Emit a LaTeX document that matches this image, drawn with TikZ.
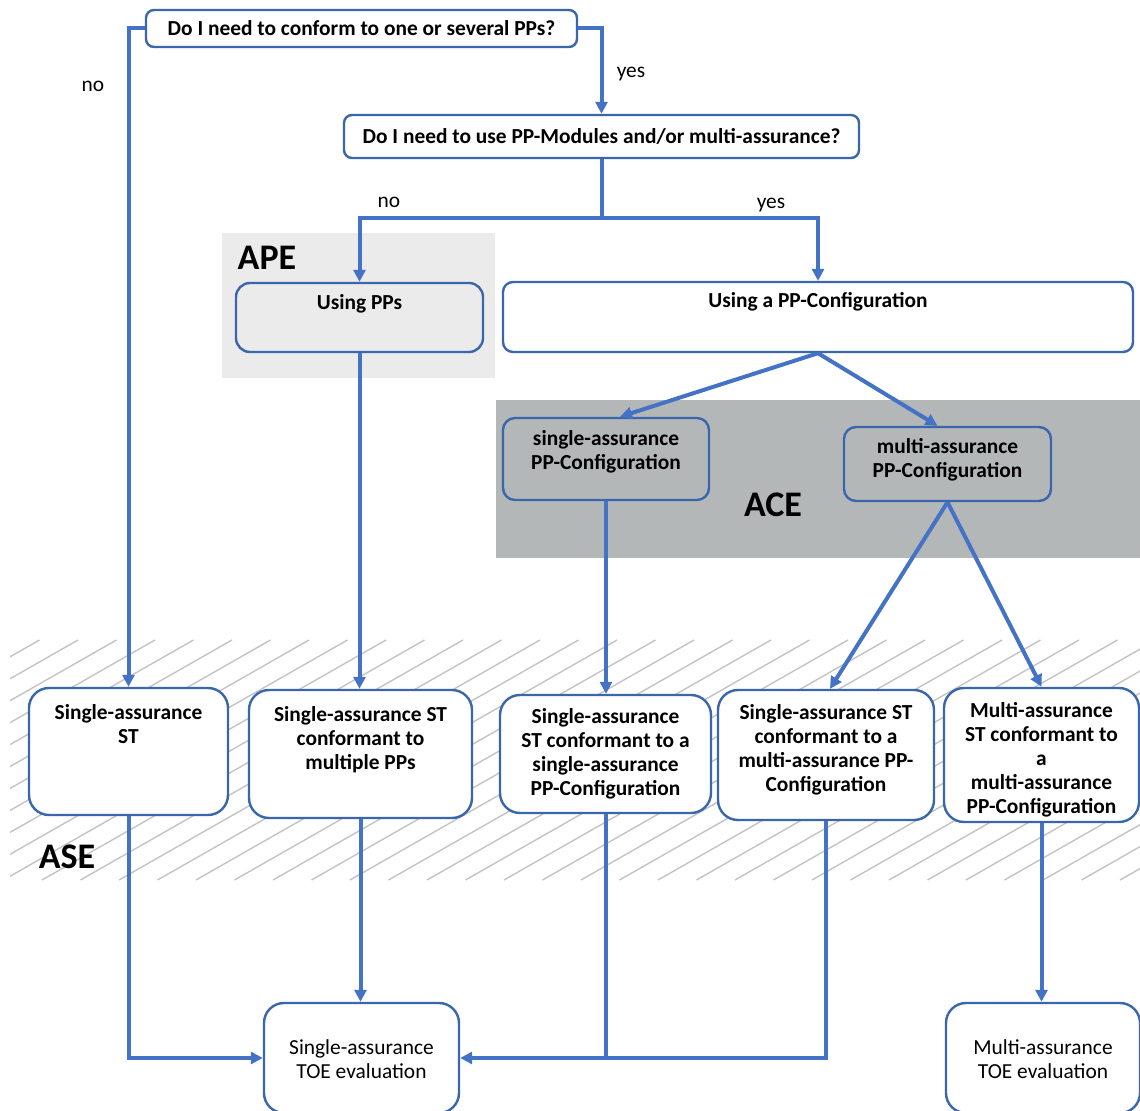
\documentclass[tikz,border=0pt]{standalone}
\usepackage{fontspec}
\setmainfont{Carlito}
\usepackage{xcolor}
\usepackage{tikz}
\usetikzlibrary{positioning, arrows.meta}

\definecolor{flowblue}{RGB}{68,114,196}
\definecolor{boxblue}{RGB}{58,102,172}
\definecolor{apegray}{RGB}{235,235,235}
\definecolor{acegray}{RGB}{180,183,184}
\definecolor{hatchgray}{RGB}{195,195,195}

\begin{document}
\begin{tikzpicture}[
    x=0.5pt, y=-0.5pt,
    qnode/.style={rectangle, rounded corners=4pt, draw=boxblue, line width=1.2pt, fill=white, font=\bfseries\fontsize{10.7}{12}\selectfont},
    boxnode/.style={rectangle, rounded corners=6pt, draw=boxblue, line width=1.2pt},
    stnode/.style={boxnode, rounded corners=10pt, fill=white},
    boxtext/.style={align=center, inner sep=0pt, font=\bfseries\fontsize{10.7}{12}\selectfont},
    toetext/.style={align=center, inner sep=0pt, font=\fontsize{10.7}{12}\selectfont},
    answer/.style={font=\fontsize{10.7}{12}\selectfont},
    area/.style={font=\bfseries\fontsize{18}{20}\selectfont},
    flow/.style={draw=flowblue, line width=2pt},
    flowarrow/.style={flow, -{Triangle[length=6pt, width=6pt]}},
]
\useasboundingbox (0,0) rectangle (1140,1111);

% background areas
\fill[apegray] (222,233) rectangle (495,378);
\fill[acegray] (496,400) rectangle (1140,558);
\begin{scope}
  \clip (10,640) rectangle (1140,880);
  \foreach \hx in {-420,-381.5,...,1140}
    \draw[hatchgray, line width=0.7pt] (\hx,880) -- ++(421,-240);
\end{scope}
\node[area](ape_label) at (267,258){APE};
\node[area](ace_label) at (773,505){ACE};
\node[area](ase_label) at (67,857){ASE};

% questions
\node[qnode, minimum width=215.5pt, minimum height=18.5pt](q_conform) at (361.5,28.5){Do I need to conform to one or several PPs?};
\node[qnode, minimum width=257.5pt, minimum height=21.5pt](q_modules) at (601.5,136.5){Do I need to use PP-Modules and/or multi-assurance?};

% protection profiles
\node[boxnode, rounded corners=7pt, minimum width=123.5pt, minimum height=34.5pt](using_pps) at (359.5,317.5){};
\node[boxtext](using_pps_text)[below=6pt of using_pps.north]{Using PPs};
\node[boxnode, fill=white, rounded corners=5pt, minimum width=315pt, minimum height=35pt](using_config) at (818,317){};
\node[boxtext](using_config_text)[below=5.5pt of using_config.north]{Using a PP-Configuration};
\node[boxnode, minimum width=103pt, minimum height=41pt](single_config) at (606,459){};
\node[boxtext](single_config_text)[below=6.5pt of single_config.north]{single-assurance\\PP-Configuration};
\node[boxnode, minimum width=103.5pt, minimum height=37pt](multi_config) at (947.5,464){};
\node[boxtext](multi_config_text)[below=6pt of multi_config.north]{multi-assurance\\PP-Configuration};

% security targets
\node[stnode, minimum width=99.5pt, minimum height=63.5pt](st1) at (128.5,751.5){};
\node[boxtext](st1_text)[below=8.5pt of st1.north]{Single-assurance\\ST};
\node[stnode, minimum width=111.5pt, minimum height=64pt](st2) at (360.5,754){};
\node[boxtext](st2_text)[below=8.5pt of st2.north]{Single-assurance ST\\conformant to\\multiple PPs};
\node[stnode, minimum width=105.5pt, minimum height=59pt](st3) at (605.5,754){};
\node[boxtext](st3_text)[below=7pt of st3.north]{Single-assurance\\ST conformant to a\\single-assurance\\PP-Configuration};
\node[stnode, minimum width=108pt, minimum height=65pt](st4) at (826,755){};
\node[boxtext](st4_text)[below=7.5pt of st4.north]{Single-assurance ST\\conformant to a\\multi-assurance PP-\\Configuration};
\node[stnode, minimum width=97.5pt, minimum height=67pt](st5) at (1041.5,755){};
\node[boxtext](st5_text)[below=7.5pt of st5.north]{Multi-assurance\\ST conformant to\\a\\multi-assurance\\PP-Configuration};

% evaluations
\node[stnode, minimum width=97.5pt, minimum height=55pt](toe1) at (361.5,1058){};
\node[toetext](toe1_text)[below=18.5pt of toe1.north]{Single-assurance\\TOE evaluation};
\node[stnode, minimum width=97pt, minimum height=55pt](toe2) at (1043,1058){};
\node[toetext](toe2_text)[below=18.5pt of toe2.north]{Multi-assurance\\TOE evaluation};

% answers
\node[answer](no_conform) at (93,86){no};
\node[answer](yes_conform) at (631,74){yes};
\node[answer](no_modules) at (389,202){no};
\node[answer](yes_modules) at (771,205){yes};

% connectors
\coordinate(split) at (601.5,218);
\draw[flowarrow] (q_conform.west) -| (st1.north);
\draw[flowarrow] (q_conform.east) -| (q_modules.north);
\draw[flow] (q_modules.south) -- (split);
\draw[flowarrow] (split) -| (using_pps.north);
\draw[flowarrow] (split) -| (using_config.north);
\draw[flowarrow] (using_config.south) -- ([xshift=7pt]single_config.north);
\draw[flowarrow] (using_config.south) -- ([xshift=-5pt]multi_config.north);
\draw[flowarrow] (using_pps.south) -- (using_pps.south |- st2.north);
\draw[flowarrow] (single_config.south) -- (single_config.south |- st3.north);
\draw[flowarrow] (multi_config.south) -- ([xshift=2pt]st4.north);
\draw[flowarrow] (multi_config.south) -- (st5.north);
\draw[flowarrow] (st1.south) |- (toe1.west);
\draw[flowarrow] (st2.south) -- (st2.south |- toe1.north);
\draw[flow] (st3.south) -- (st3.south |- toe1.east);
\draw[flowarrow] (st4.south) |- (toe1.east);
\draw[flowarrow] (st5.south) -- (st5.south |- toe2.north);
\end{tikzpicture}
\end{document}
